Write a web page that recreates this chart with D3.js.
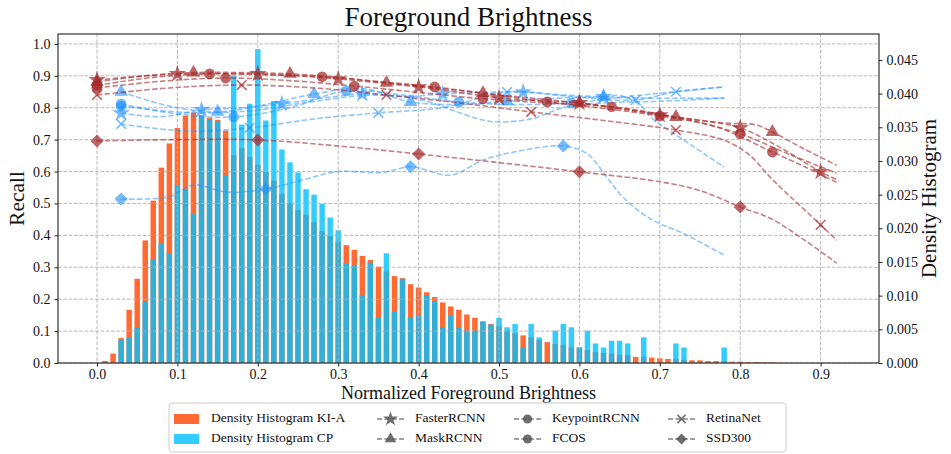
<!DOCTYPE html>
<html>
<head>
<meta charset="utf-8">
<script src="https://cdn.jsdelivr.net/npm/d3@7"></script>
<style>
  body { margin: 0; background: #fff; }
  text { font-family: "Liberation Serif", "Times New Roman", serif; fill: #111; }
</style>
</head>
<body>
<svg id="chart" width="951" height="454"></svg>
<script>
// ---------- histogram data (bin centres, density per bin) ----------
const binCenters = [0.01,0.02,0.03,0.04,0.05,0.06,0.07,0.08,0.09,0.10,
  0.11,0.12,0.13,0.14,0.15,0.16,0.17,0.18,0.19,0.20,
  0.21,0.22,0.23,0.24,0.25,0.26,0.27,0.28,0.29,0.30,
  0.31,0.32,0.33,0.34,0.35,0.36,0.37,0.38,0.39,0.40,
  0.41,0.42,0.43,0.44,0.45,0.46,0.47,0.48,0.49,0.50,
  0.51,0.52,0.53,0.54,0.55,0.56,0.57,0.58,0.59,0.60,
  0.61,0.62,0.63,0.64,0.65,0.66,0.67,0.68,0.69,0.70,
  0.71,0.72,0.73,0.74,0.75,0.76,0.77,0.78,0.79,0.80,
  0.81,0.82,0.83,0.84,0.85];

const densityKIA = [0.0003,0.0014,0.0037,0.0079,0.0125,0.0182,0.0241,0.0290,0.0326,0.0349,
  0.0367,0.0372,0.0368,0.0364,0.0361,0.0345,0.0309,0.0319,0.0306,0.0294,
  0.0284,0.0271,0.0251,0.0238,0.0227,0.0220,0.0209,0.0196,0.0190,0.0180,
  0.0175,0.0168,0.0159,0.0153,0.0143,0.0136,0.0129,0.0126,0.0117,0.0112,
  0.0105,0.0098,0.0090,0.0084,0.0079,0.0072,0.0067,0.0062,0.0058,0.0055,
  0.0048,0.0044,0.0041,0.0038,0.0034,0.0031,0.0028,0.0027,0.0023,0.0023,
  0.0019,0.0016,0.0015,0.0014,0.0012,0.0012,0.0009,0.0009,0.0008,0.0007,
  0.0006,0.0006,0.0005,0.0004,0.0004,0.0003,0.0003,0.0003,0.0002,0.0002,
  0.00015,0.00015,0.0001,0.0001,0.00005];

const densityCP = [0,0,0.0034,0.0038,0.0053,0.0091,0.0154,0.0178,0.0163,0.0264,
  0.0258,0.0221,0.0367,0.0362,0.0359,0.0279,0.0427,0.0354,0.0385,0.0466,
  0.0360,0.0389,0.0317,0.0298,0.0283,0.0258,0.0250,0.0236,0.0216,0.0197,
  0.0148,0.0144,0.0101,0.0149,0.0068,0.0163,0.0076,0.0125,0.0068,0.0071,
  0.0101,0.0091,0.0053,0.0071,0.0053,0.0048,0.0048,0.0061,0.0057,0.0067,
  0.0053,0.0058,0.0023,0.0058,0.0038,0,0.0048,0.0058,0.0053,0.0023,
  0.0048,0.0029,0.0023,0.0033,0.0033,0.0029,0,0.0038,0,0,
  0,0.0029,0.0023,0,0,0,0,0.0023,0,0,
  0,0,0,0,0];

// ---------- recall curves, KI-A ([brightness, recall]) ----------
const kiaFaster = [[0,0.887],[0.05,0.898],[0.1,0.906],[0.15,0.907],[0.2,0.906],[0.25,0.9],[0.3,0.89],
  [0.35,0.878],[0.4,0.865],[0.45,0.848],[0.5,0.83],[0.55,0.822],[0.6,0.815],[0.65,0.797],[0.7,0.777],
  [0.75,0.76],[0.8,0.737],[0.85,0.675],[0.9,0.599],[0.92,0.575]];
const kiaFasterMarks = [0,0.1,0.2,0.3,0.4,0.5,0.6,0.7,0.8,0.9];

const kiaMask = [[0,0.881],[0.06,0.9],[0.12,0.91],[0.18,0.91],[0.24,0.906],[0.3,0.895],[0.36,0.878],
  [0.42,0.862],[0.48,0.846],[0.54,0.83],[0.6,0.815],[0.66,0.795],[0.72,0.771],[0.78,0.752],[0.82,0.746],
  [0.84,0.724],[0.88,0.67],[0.92,0.62]];
const kiaMaskMarks = [0,0.12,0.24,0.36,0.48,0.6,0.72,0.84];

const kiaKeypoint = [[0,0.87],[0.07,0.895],[0.14,0.906],[0.21,0.903],[0.28,0.897],[0.35,0.882],[0.42,0.865],
  [0.49,0.842],[0.56,0.818],[0.63,0.798],[0.7,0.774],[0.77,0.74],[0.84,0.661],[0.88,0.615],[0.92,0.566]];
const kiaKeypointMarks = [0,0.14,0.28,0.42,0.56,0.7,0.84];

const kiaFcos = [[0,0.862],[0.08,0.883],[0.16,0.893],[0.24,0.885],[0.32,0.868],[0.4,0.848],[0.48,0.828],
  [0.56,0.815],[0.64,0.803],[0.72,0.77],[0.8,0.718],[0.86,0.655],[0.92,0.595]];
const kiaFcosMarks = [0,0.16,0.32,0.48,0.64,0.8];

const kiaRetina = [[0,0.84],[0.09,0.862],[0.18,0.871],[0.27,0.862],[0.36,0.84],[0.45,0.815],[0.54,0.787],
  [0.63,0.76],[0.72,0.73],[0.78,0.698],[0.81,0.655],[0.84,0.575],[0.9,0.433],[0.92,0.385]];
const kiaRetinaMarks = [0,0.18,0.36,0.54,0.72,0.9];

const kiaSsd = [[0,0.696],[0.1,0.70],[0.2,0.699],[0.3,0.68],[0.4,0.655],[0.5,0.628],[0.6,0.599],
  [0.7,0.568],[0.75,0.54],[0.8,0.489],[0.84,0.45],[0.88,0.385],[0.92,0.313]];
const kiaSsdMarks = [0,0.2,0.4,0.6,0.8];

// ---------- recall curves, CP ----------
const cpFaster = [[0.03,0.783],[0.08,0.772],[0.13,0.793],[0.18,0.80],[0.23,0.812],[0.28,0.83],[0.33,0.843],
  [0.38,0.835],[0.43,0.843],[0.48,0.848],[0.53,0.849],[0.58,0.84],[0.63,0.834],[0.68,0.83],[0.73,0.83],[0.78,0.83]];
const cpFasterMarks = [0.03,0.13,0.23,0.33,0.43,0.53,0.63];

const cpMask = [[0.03,0.85],[0.09,0.805],[0.15,0.787],[0.21,0.81],[0.27,0.843],[0.33,0.86],[0.39,0.818],
  [0.45,0.81],[0.51,0.82],[0.57,0.83],[0.63,0.834],[0.65,0.838],[0.675,0.809],[0.69,0.768],[0.735,0.69],[0.78,0.614]];
const cpMaskMarks = [0.03,0.15,0.27,0.39,0.51,0.63];

const cpKeypoint = [[0.03,0.812],[0.10,0.78],[0.17,0.771],[0.24,0.80],[0.31,0.853],[0.38,0.84],[0.45,0.818],
  [0.52,0.81],[0.59,0.815],[0.66,0.835],[0.72,0.85],[0.78,0.865]];
const cpKeypointMarks = [0.03,0.17,0.31,0.45,0.59];

const cpFcos = [[0.03,0.805],[0.11,0.785],[0.19,0.79],[0.27,0.82],[0.35,0.84],[0.41,0.82],[0.45,0.785],
  [0.49,0.757],[0.54,0.765],[0.58,0.80],[0.63,0.815],[0.7,0.82],[0.78,0.83]];
const cpFcosMarks = [0.03];

const cpRetina = [[0.03,0.749],[0.11,0.727],[0.19,0.737],[0.27,0.765],[0.35,0.784],[0.43,0.80],[0.51,0.849],
  [0.59,0.835],[0.67,0.824],[0.72,0.85],[0.78,0.865]];
const cpRetinaMarks = [0.03,0.19,0.35,0.51,0.67,0.72];

const cpSsd = [[0.03,0.514],[0.09,0.521],[0.12,0.558],[0.16,0.536],[0.21,0.545],[0.256,0.574],[0.3,0.60],
  [0.356,0.597],[0.39,0.615],[0.44,0.589],[0.48,0.636],[0.52,0.662],[0.58,0.68],[0.61,0.655],[0.634,0.583],
  [0.654,0.52],[0.688,0.452],[0.73,0.405],[0.78,0.338]];
const cpSsdMarks = [0.03,0.21,0.39,0.58];

// ---------- tick labels ----------
const xTicks = [0.0,0.1,0.2,0.3,0.4,0.5,0.6,0.7,0.8,0.9];
const recallTicks = [0.0,0.1,0.2,0.3,0.4,0.5,0.6,0.7,0.8,0.9,1.0];
const densityTicks = [0.000,0.005,0.010,0.015,0.020,0.025,0.030,0.035,0.040,0.045];

// ---------- layout ----------
const svg = d3.select("#chart");
const M = { left: 58, right: 879, top: 34, bottom: 363 };
const x = d3.scaleLinear().domain([-0.0485, 0.9726]).range([M.left, M.right]);
const yRecall = d3.scaleLinear().domain([0, 1.031]).range([M.bottom, M.top]);
const yDensity = d3.scaleLinear().domain([0, 0.04885]).range([M.bottom, M.top]);

const RED = "#a52a2a", BLUE = "#1e90ff";
const FONT = '"Liberation Serif", "Times New Roman", serif';

// ---------- histogram bars ----------
const barW = x(0.0068) - x(0);
function drawBars(values, color) {
  svg.append("g").selectAll("rect")
    .data(binCenters.map((c, i) => ({ c, v: values[i] })).filter(d => d.v > 0))
    .join("rect")
    .attr("x", d => x(d.c) - barW / 2)
    .attr("y", d => yDensity(d.v))
    .attr("width", barW)
    .attr("height", d => yDensity(0) - yDensity(d.v))
    .attr("fill", color)
    .attr("fill-opacity", 0.8);
}
drawBars(densityKIA, "#ff4500");
drawBars(densityCP, "#00bfff");

// ---------- grid ----------
const grid = svg.append("g").attr("stroke", "#b0b0b0").attr("stroke-width", 0.9)
  .attr("stroke-dasharray", "3.7,1.6");
grid.selectAll("line.v").data(xTicks).join("line")
  .attr("x1", d => x(d)).attr("x2", d => x(d)).attr("y1", M.top).attr("y2", M.bottom);
grid.selectAll("line.h").data(recallTicks).join("line")
  .attr("y1", d => yRecall(d)).attr("y2", d => yRecall(d)).attr("x1", M.left).attr("x2", M.right);

// ---------- marker shapes ----------
function markerPath(shape, scale) {
  const s = scale || 1;
  switch (shape) {
    case "star": return d3.symbol(d3.symbolStar, 95 * s * s)();
    case "triangle": return d3.symbol(d3.symbolTriangle, 80 * s * s)();
    case "circle": return d3.symbol(d3.symbolCircle, 90 * s * s)();
    case "diamond": return d3.symbol(d3.symbolSquare, 85 * s * s)();
    case "x": { const r = 4.8 * s; return `M${-r},${-r}L${r},${r}M${-r},${r}L${r},${-r}`; }
  }
}
function drawMarker(g, shape, cx, cy, color, opacity, scale) {
  const p = g.append("path").attr("d", markerPath(shape, scale))
    .attr("transform", `translate(${cx},${cy})` + (shape === "diamond" ? " rotate(45)" : ""));
  if (shape === "x") {
    p.attr("fill", "none").attr("stroke", color).attr("stroke-width", 1.6).attr("stroke-opacity", opacity);
  } else {
    p.attr("fill", color).attr("fill-opacity", opacity);
  }
}

// ---------- recall curves ----------
const models = [
  { label: "FasterRCNN", shape: "star" },
  { label: "MaskRCNN", shape: "triangle" },
  { label: "KeypointRCNN", shape: "circle" },
  { label: "FCOS", shape: "circle" },
  { label: "RetinaNet", shape: "x" },
  { label: "SSD300", shape: "diamond" }
];
const groups = [
  { color: BLUE, lineOpacity: 0.5, markOpacity: 0.62,
    series: [[cpFaster, cpFasterMarks], [cpMask, cpMaskMarks], [cpKeypoint, cpKeypointMarks],
             [cpFcos, cpFcosMarks], [cpRetina, cpRetinaMarks], [cpSsd, cpSsdMarks]] },
  { color: RED, lineOpacity: 0.6, markOpacity: 0.72,
    series: [[kiaFaster, kiaFasterMarks], [kiaMask, kiaMaskMarks], [kiaKeypoint, kiaKeypointMarks],
             [kiaFcos, kiaFcosMarks], [kiaRetina, kiaRetinaMarks], [kiaSsd, kiaSsdMarks]] }
];
const line = d3.line().x(d => x(d[0])).y(d => yRecall(d[1])).curve(d3.curveCatmullRom.alpha(0.5));

groups.forEach(grp => {
  const g = svg.append("g");
  grp.series.forEach(([pts]) => {
    g.append("path").attr("d", line(pts)).attr("fill", "none")
      .attr("stroke", grp.color).attr("stroke-opacity", grp.lineOpacity)
      .attr("stroke-width", 1.6).attr("stroke-dasharray", "5.5,2.4");
  });
  grp.series.forEach(([pts, marks], i) => {
    marks.forEach(mx => {
      const p = pts.find(d => Math.abs(d[0] - mx) < 1e-6);
      if (p) drawMarker(g, models[i].shape, x(p[0]), yRecall(p[1]), grp.color, grp.markOpacity, 1);
    });
  });
});

// ---------- frame and axes ----------
svg.append("rect").attr("x", M.left).attr("y", M.top)
  .attr("width", M.right - M.left).attr("height", M.bottom - M.top)
  .attr("fill", "none").attr("stroke", "#222").attr("stroke-width", 1.1);

function styleAxis(g) {
  g.select(".domain").remove();
  g.selectAll(".tick line").attr("stroke", "#222");
  g.selectAll("text").attr("font-family", FONT).attr("font-size", 14).attr("fill", "#111");
}
svg.append("g").attr("transform", `translate(0,${M.bottom})`)
  .call(d3.axisBottom(x).tickValues(xTicks).tickFormat(d3.format(".1f")).tickSize(3.5).tickPadding(3))
  .call(styleAxis);
svg.append("g").attr("transform", `translate(${M.left},0)`)
  .call(d3.axisLeft(yRecall).tickValues(recallTicks).tickFormat(d3.format(".1f")).tickSize(3.5).tickPadding(4))
  .call(styleAxis);
svg.append("g").attr("transform", `translate(${M.right},0)`)
  .call(d3.axisRight(yDensity).tickValues(densityTicks).tickFormat(d3.format(".3f")).tickSize(3.5).tickPadding(4))
  .call(styleAxis);

// ---------- titles ----------
svg.append("text").attr("x", (M.left + M.right) / 2).attr("y", 26)
  .attr("text-anchor", "middle").attr("font-size", 27).text("Foreground Brightness");
svg.append("text").attr("x", (M.left + M.right) / 2).attr("y", 399)
  .attr("text-anchor", "middle").attr("font-size", 18).text("Normalized Foreground Brightness");
svg.append("text").attr("transform", `translate(24,${(M.top + M.bottom) / 2}) rotate(-90)`)
  .attr("text-anchor", "middle").attr("font-size", 21.5).text("Recall");
svg.append("text").attr("transform", `translate(931,${(M.top + M.bottom) / 2}) rotate(-90)`)
  .attr("text-anchor", "middle").attr("dominant-baseline", "middle").attr("font-size", 21).text("Density Histogram");

// ---------- legend ----------
const lg = svg.append("g");
lg.append("rect").attr("x", 169).attr("y", 403).attr("width", 617).attr("height", 49).attr("rx", 3)
  .attr("fill", "#fff").attr("fill-opacity", 0.85).attr("stroke", "#cccccc").attr("stroke-width", 1);
const rowY = [419, 439];
const histEntries = [
  { label: "Density Histogram KI-A", color: "#ff4500" },
  { label: "Density Histogram CP", color: "#00bfff" }
];
histEntries.forEach((e, r) => {
  lg.append("rect").attr("x", 174).attr("y", rowY[r] - 5).attr("width", 25).attr("height", 10)
    .attr("fill", e.color).attr("fill-opacity", 0.8);
  lg.append("text").attr("x", 211).attr("y", rowY[r]).attr("dominant-baseline", "middle")
    .attr("font-size", 13.5).text(e.label);
});
const colX = [377, 514, 668];
models.forEach((m, i) => {
  const c = Math.floor(i / 2), r = i % 2;
  const x0 = colX[c], y0 = rowY[r];
  lg.append("line").attr("x1", x0).attr("x2", x0 + 27).attr("y1", y0).attr("y2", y0)
    .attr("stroke", "#555").attr("stroke-opacity", 0.75).attr("stroke-width", 1.5).attr("stroke-dasharray", "5,2.4");
  drawMarker(lg, m.shape, x0 + 13.5, y0, "#555", 0.85, 0.85);
  lg.append("text").attr("x", x0 + 38).attr("y", y0).attr("dominant-baseline", "middle")
    .attr("font-size", 13.5).text(m.label);
});
</script>
</body>
</html>
